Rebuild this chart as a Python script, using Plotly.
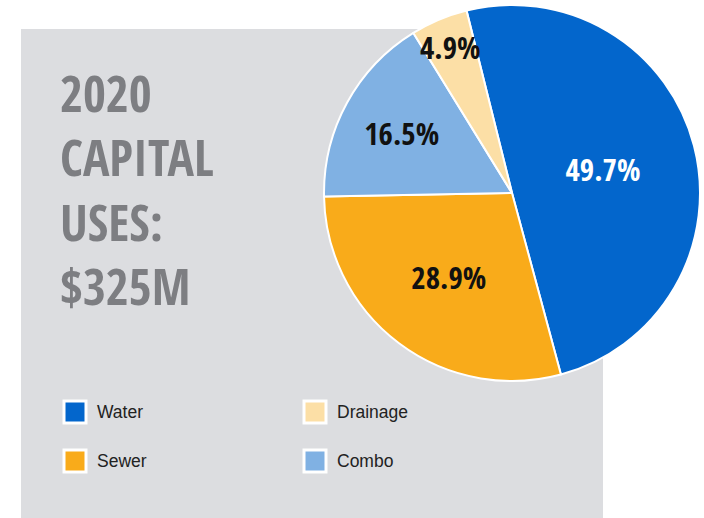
import math
import plotly.graph_objects as go

labels = ["Water", "Sewer", "Combo", "Drainage"]
values = [49.7, 28.9, 16.5, 4.9]
colors = ["#0366cc", "#f9ab1a", "#80b1e3", "#fcdfa6"]
text_colors = ["#ffffff", "#111111", "#111111", "#111111"]
title_lines = ["2020", "CAPITAL", "USES:", "$325M"]
legend_order = ["Water", "Drainage", "Sewer", "Combo"]

W, H = 704, 518
COND = "Open Sans Condensed, Roboto Condensed, sans-serif"
ROT = -14
PIE_CX, PIE_CY, PIE_R = 512, 193, 188

# the smallest slice keeps its label at full size, placed along its mid-angle
small = [v < 8 for v in values]
templates = ["" if s else "<b>%{percent:.1%}</b>" for s in small]

fig = go.Figure()
fig.add_trace(go.Pie(
    labels=labels, values=values, sort=False, direction="clockwise",
    rotation=ROT,
    marker=dict(colors=colors, line=dict(color="white", width=2)),
    texttemplate=templates, textposition="inside",
    insidetextorientation="horizontal",
    insidetextfont=dict(family=COND, size=31, color=text_colors),
    showlegend=False, hoverinfo="label+percent",
    domain=dict(x=[(PIE_CX - PIE_R) / W, (PIE_CX + PIE_R) / W],
                y=[(H - PIE_CY - PIE_R) / H, (H - PIE_CY + PIE_R) / H]),
))

shapes = [dict(type="rect", xref="paper", yref="paper",
               x0=21 / W, x1=603 / W, y0=0, y1=(H - 29) / H,
               fillcolor="#dcdde0", line=dict(width=0), layer="below")]
annotations = []

total = sum(values)
cum = 0.0
for lab, v, s, tc in zip(labels, values, small, text_colors):
    mid = ROT + 360 * (cum + v / 2) / total
    cum += v
    if not s:
        continue
    rr = 0.84 * PIE_R
    px = PIE_CX + rr * math.sin(math.radians(mid))
    py = PIE_CY - rr * math.cos(math.radians(mid))
    annotations.append(dict(
        text="<b>%.1f%%</b>" % (100 * v / total), xref="paper", yref="paper",
        x=px / W, y=(H - py) / H, xanchor="center", yanchor="middle",
        showarrow=False, font=dict(family=COND, size=31, color=tc)))

annotations.append(dict(
    text="<br>".join("<b>" + l + "</b>" for l in title_lines),
    xref="paper", yref="paper", x=58 / W, y=(H - 57) / H,
    xanchor="left", yanchor="top", align="left", showarrow=False,
    font=dict(family=COND, size=49.5, color="#7d7e82")))

cmap = dict(zip(labels, colors))
for k, name in enumerate(legend_order):
    col, row = k % 2, k // 2
    cx = 75 + 240 * col
    cy = 412 + 49 * row
    shapes.append(dict(type="rect", xref="paper", yref="paper",
                       x0=(cx - 12.5) / W, x1=(cx + 12.5) / W,
                       y0=(H - cy - 12.5) / H, y1=(H - cy + 12.5) / H,
                       fillcolor="#ffffff", line=dict(width=0), layer="below"))
    shapes.append(dict(type="rect", xref="paper", yref="paper",
                       x0=(cx - 9.5) / W, x1=(cx + 9.5) / W,
                       y0=(H - cy - 9.5) / H, y1=(H - cy + 9.5) / H,
                       fillcolor=cmap[name], line=dict(width=0), layer="below"))
    annotations.append(dict(
        text=name, xref="paper", yref="paper",
        x=(cx + 20) / W, y=(H - cy) / H, xanchor="left", yanchor="middle",
        showarrow=False, font=dict(family="Liberation Sans, Arial, sans-serif",
                                   size=17.5, color="#222222")))

fig.update_layout(
    width=W, height=H, margin=dict(l=0, r=0, t=0, b=0),
    paper_bgcolor="white", plot_bgcolor="white",
    shapes=shapes, annotations=annotations,
)
fig.write_html("out.html")
